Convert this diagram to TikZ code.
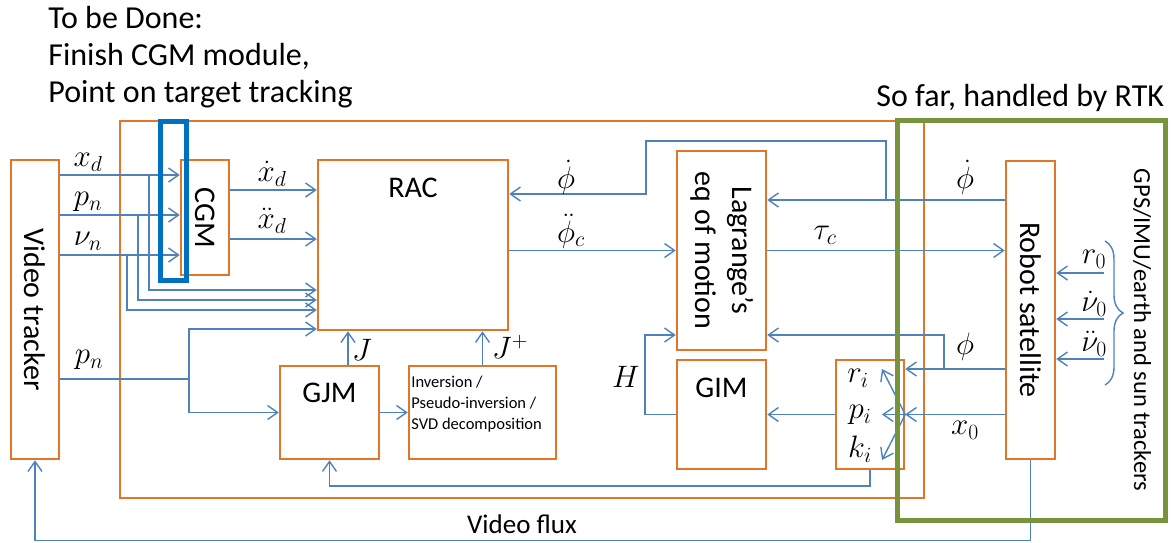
\RequirePackage{fix-cm}
\documentclass[tikz,border=0pt]{standalone}
\usepackage{fontspec}
\setmainfont{Carlito}
\usepackage{graphicx}
\usetikzlibrary{arrows.meta,decorations.pathreplacing}

\definecolor{boxorange}{RGB}{226,118,40}
\definecolor{sigblue}{RGB}{79,129,189}
\definecolor{todoblue}{RGB}{0,112,192}
\definecolor{rtkgreen}{RGB}{119,147,60}

\tikzset{every picture/.style={line width=0.75pt}}
\tikzset{
  blk/.style={draw=boxorange, line width=2.5pt, fill=white, inner sep=0pt},
  wire/.style={draw=sigblue, line width=1.4pt},
  sig/.style={wire, -{Straight Barb[length=10pt,width=14pt]}},
  bigtext/.style={inner sep=0pt, font=\fontsize{30}{37}\selectfont},
  toptext/.style={inner sep=0pt, font=\fontsize{32}{37}\selectfont},
  mlbl/.style={inner sep=0pt, font=\fontsize{31}{33}\selectfont},
  smalltext/.style={inner sep=0pt, font=\fontsize{16.5}{21}\selectfont},
}

\begin{document}
\begin{tikzpicture}[x=1pt, y=-1pt]
\useasboundingbox (0,0) rectangle (1171,542);

\draw[boxorange, line width=2.5pt] (120,121) rectangle (924,498);

% blocks
\node[blk, bigtext, minimum width=48pt, minimum height=299pt] (vt) at (35,309.5) {\rotatebox{-90}{Video tracker}};
\node[blk, bigtext, minimum width=48pt, minimum height=115pt] (cgm) at (205,217.5) {\rotatebox{-90}{CGM}};
\node[blk, minimum width=190pt, minimum height=170pt] (rac) at (413,245) {};
\node[blk, bigtext, minimum width=89pt, minimum height=199pt] (lag) at (721.5,250.5)
  {\rotatebox{-90}{\begin{tabular}{@{}c@{}}Lagrange’s\\eq of motion\end{tabular}}};
\node[blk, minimum width=99pt, minimum height=93pt] (gjm) at (329.5,412.5) {};
\node[blk, minimum width=147pt, minimum height=93pt] (inv) at (482.5,412.5) {};
\node[blk, minimum width=89pt, minimum height=109pt] (gim) at (721.5,414.5) {};
\node[blk, minimum width=68pt, minimum height=109pt] (sel) at (870,414.5) {};
\node[blk, bigtext, minimum width=49pt, minimum height=298pt] (robot) at (1030.5,310) {\rotatebox{-90}{Robot satellite}};

\node[bigtext] (raclbl) at (413,188) {RAC};
\node[bigtext] (gjmlbl) at (329.5,393) {GJM};
\node[bigtext] (gimlbl) at (721.5,388) {GIM};
\node[smalltext, anchor=west, align=left] (invlbl) at (411,404) {Inversion /\\Pseudo-inversion /\\SVD decomposition};

% tracker outputs
\coordinate (xdsplit) at (149,175);
\coordinate (xdturn) at (149,290);
\coordinate (pnsplit) at (138,215);
\coordinate (pnturn) at (138,300);
\coordinate (nusplit) at (127,255);
\coordinate (nuturn) at (127,310);
\draw[sig] (vt.east |- xdsplit) -- (cgm.west |- xdsplit);
\draw[sig] (xdsplit) -- (xdturn) -- (rac.west |- xdturn);
\draw[sig] (vt.east |- pnsplit) -- (cgm.west |- pnsplit);
\draw[sig] (pnsplit) -- (pnturn) -- (rac.west |- pnturn);
\draw[sig] (vt.east |- nusplit) -- (cgm.west |- nusplit);
\draw[sig] (nusplit) -- (nuturn) -- (rac.west |- nuturn);

\coordinate (xdotlvl) at (250,190);
\coordinate (xddotlvl) at (250,239);
\draw[sig] (cgm.east |- xdotlvl) -- (rac.west |- xdotlvl);
\draw[sig] (cgm.east |- xddotlvl) -- (rac.west |- xddotlvl);

\coordinate (posplit) at (189,379);
\coordinate (posup) at (189,329);
\draw[wire] (vt.east |- posplit) -- (posplit);
\draw[sig] (posplit) -- (posup) -- (rac.west |- posup);
\draw[sig] (posplit) |- (gjm.west);

% jacobians
\coordinate (jx) at (348,0);
\draw[sig] (gjm.east) -- (inv.west);
\draw[sig] (gjm.north -| jx) -- (rac.south -| jx);
\draw[sig] (inv.north) -- (inv.north |- rac.south);

% dynamics
\draw[sig] (rac.east |- lag.west) -- (lag.west);
\draw[sig] (lag.east) -- (lag.east -| robot.west);

\coordinate (pdsplit) at (886,200);
\coordinate (pdtop) at (886,141);
\coordinate (pdleft) at (646,141);
\coordinate (pddown) at (646,194);
\draw[sig] (robot.west |- pdsplit) -- (lag.east |- pdsplit);
\draw[sig] (pdsplit) -- (pdtop) -- (pdleft) -- (pddown) -- (rac.east |- pddown);

\coordinate (phisplit) at (944,369);
\coordinate (phiup) at (944,335);
\draw[sig] (robot.west |- phisplit) -- (sel.east |- phisplit);
\draw[sig] (phisplit) -- (phiup) -- (lag.east |- phiup);
\draw[sig] (robot.west |- sel.east) -- (sel.east);

\coordinate (rtip) at (882,369);
\coordinate (ptip) at (882,414.5);
\coordinate (ktip) at (882,460);
\foreach \tip in {rtip,ptip,ktip}
  \draw[sig] (sel.east) -- (\tip);

\draw[sig] (sel.west) -- (gim.east);
\coordinate (hleft) at (645,414.5);
\draw[sig] (gim.west) -- (hleft) -- (hleft |- phiup) -- (lag.west |- phiup);

\coordinate (fbturn) at (870,486);
\draw[sig] (sel.south) -- (fbturn) -| (gjm.south);
\draw[sig] (robot.south) -- ++(0,80) -| (vt.south);

% sensors
\coordinate (rzero) at (1104,273);
\coordinate (vzero) at (1104,319);
\coordinate (azero) at (1104,359);
\foreach \src in {rzero,vzero,azero}
  \draw[sig] (\src) -- (robot.east |- \src);
\draw[wire, decorate, decoration={brace, amplitude=18pt}] (1105,241) -- (1105,385);

% frames
\draw[todoblue, line width=5pt] (160.5,121.5) rectangle (186.5,280.5);
\draw[rtkgreen, line width=5pt] (897.5,120.5) rectangle (1165.5,520.5);

% labels
\node[mlbl] (lxd) at (88,162) {$x_d$};
\node[mlbl] (lpn) at (88,202) {$p_n$};
\node[mlbl] (lnu) at (88,241) {$\nu_n$};
\node[mlbl] (lpn2) at (89,360) {$p_n$};
\node[mlbl] (lxdot) at (272,174) {$\dot{x}_d$};
\node[mlbl] (lxddot) at (272,221) {$\ddot{x}_d$};
\node[mlbl] (lj) at (362,350) {$J$};
\node[mlbl] (ljp) at (510,347) {$J^+$};
\node[mlbl] (lphid) at (566,177) {$\dot{\phi}$};
\node[mlbl] (lphic) at (571,231) {$\ddot{\phi}_c$};
\node[mlbl] (ltau) at (825,235) {$\tau_c$};
\node[mlbl] (lphid2) at (965,177) {$\dot{\phi}$};
\node[mlbl] (lphi) at (965,347) {$\phi$};
\node[mlbl] (lxz) at (965,430) {$x_0$};
\node[mlbl] (lh) at (626,377) {$H$};
\node[mlbl] (lri) at (858,378) {$r_i$};
\node[mlbl] (lpi) at (860,415) {$p_i$};
\node[mlbl] (lki) at (860,449) {$k_i$};
\node[mlbl] (lrz) at (1094,259) {$r_0$};
\node[mlbl] (lvz) at (1094,304) {$\dot{\nu}_0$};
\node[mlbl] (laz) at (1094,344) {$\ddot{\nu}_0$};

\node[toptext, anchor=base west] (todo1) at (48,28) {To be Done:};
\node[toptext, anchor=base west] (todo2) at (48,65) {Finish CGM module,};
\node[toptext, anchor=base west] (todo3) at (48,102) {Point on target tracking};
\node[toptext, anchor=base west] (rtk) at (876,106) {So far, handled by RTK};
\node[inner sep=0pt, font=\fontsize{27}{30}\selectfont] (flux) at (522,524) {Video flux};
\node[inner sep=0pt, font=\fontsize{24.5}{27}\selectfont] (gps) at (1142,330) {\rotatebox{-90}{GPS/IMU/earth and sun trackers}};

\end{tikzpicture}
\end{document}
